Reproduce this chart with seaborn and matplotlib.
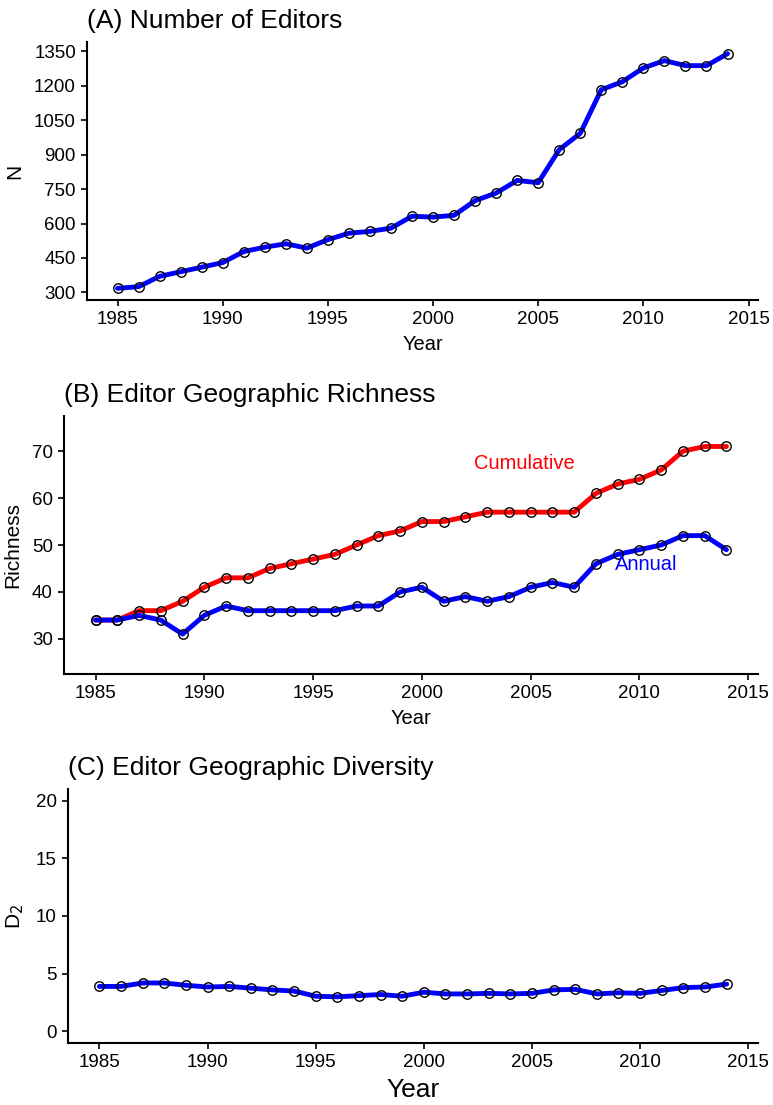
import numpy as np
import pandas as pd
import seaborn as sns
import matplotlib
matplotlib.use("Agg")
import matplotlib.pyplot as plt

sns.set_theme(style="ticks")
plt.rcParams['font.family'] = ['Liberation Sans', 'DejaVu Sans']
plt.rcParams['text.color'] = 'black'
plt.rcParams['axes.labelcolor'] = 'black'

years = list(range(1985, 2015))

# (A) number of editors per year
editors = [318, 325, 370, 390, 410, 430, 478, 497, 512, 493,
           530, 558, 566, 580, 632, 628, 636, 700, 733, 788,
           778, 922, 993, 1183, 1218, 1278, 1310, 1288, 1288, 1340]

# (B) geographic richness
richness_cumulative = [34, 34, 36, 36, 38, 41, 43, 43, 45, 46,
                       47, 48, 50, 52, 53, 55, 55, 56, 57, 57,
                       57, 57, 57, 61, 63, 64, 66, 70, 71, 71]
richness_annual = [34, 34, 35, 34, 31, 35, 37, 36, 36, 36,
                   36, 36, 37, 37, 40, 41, 38, 39, 38, 39,
                   41, 42, 41, 46, 48, 49, 50, 52, 52, 49]

# (C) geographic diversity D2
diversity = [3.9, 3.9, 4.2, 4.2, 4.0, 3.85, 3.9, 3.75, 3.6, 3.5,
             3.05, 3.0, 3.1, 3.2, 3.05, 3.4, 3.25, 3.25, 3.3, 3.25,
             3.3, 3.6, 3.65, 3.25, 3.35, 3.3, 3.55, 3.8, 3.85, 4.1]

year_ticks = [1985, 1990, 1995, 2000, 2005, 2010, 2015]

W, H = 773, 1105
fig = plt.figure(figsize=(W / 100, H / 100), dpi=100)

def box(left, right, top, bottom):
    return [left / W, 1 - bottom / H, (right - left) / W, (bottom - top) / H]

axA = fig.add_axes(box(87, 758, 42, 300))
axB = fig.add_axes(box(64, 758, 416, 674))
axC = fig.add_axes(box(68, 758, 789, 1043))

line_kw = dict(linewidth=3.5, marker='o', markersize=6.8,
               markerfacecolor='none', markeredgecolor='black',
               markeredgewidth=1.0)

def draw(ax, values, color):
    df = pd.DataFrame({'Year': years, 'val': values})
    sns.lineplot(data=df, x='Year', y='val', ax=ax, color=color, **line_kw)

draw(axA, editors, '#0000ff')
draw(axB, richness_cumulative, '#ff0000')
draw(axB, richness_annual, '#0000ff')
draw(axC, diversity, '#0000ff')

axB.text(2004.7, 67.3, 'Cumulative', color='#ff0000', fontsize=14.5,
         ha='center', va='center')
axB.text(2010.3, 45.8, 'Annual', color='#0000ff', fontsize=14.5,
         ha='center', va='center')

setup = [
    (axA, '(A) Number of Editors', 'N', (267, 1391), np.arange(300, 1351, 150), 14.5),
    (axB, '(B) Editor Geographic Richness', 'Richness', (22.5, 77.5), np.arange(30, 71, 10), 14.5),
    (axC, '(C) Editor Geographic Diversity', 'D$_2$', (-1, 21), np.arange(0, 21, 5), 19),
]

for ax, title, ylab, ylim, yt, xlab_size in setup:
    ax.set_xlim(1983.55, 2015.45)
    ax.set_ylim(*ylim)
    ax.set_xticks(year_ticks)
    ax.set_yticks(yt)
    ax.set_title(title, loc='left', fontsize=19, pad=10)
    ax.set_xlabel('Year', fontsize=xlab_size, labelpad=5)
    ax.set_ylabel(ylab, fontsize=15, labelpad=7)
    ax.tick_params(axis='both', labelsize=13.5, length=4, width=1.2,
                   color='black', labelcolor='black', pad=4)
    for s in ['top', 'right']:
        ax.spines[s].set_visible(False)
    for s in ['left', 'bottom']:
        ax.spines[s].set_linewidth(1.5)
        ax.spines[s].set_color('black')

fig.savefig('out.png', dpi=100)
